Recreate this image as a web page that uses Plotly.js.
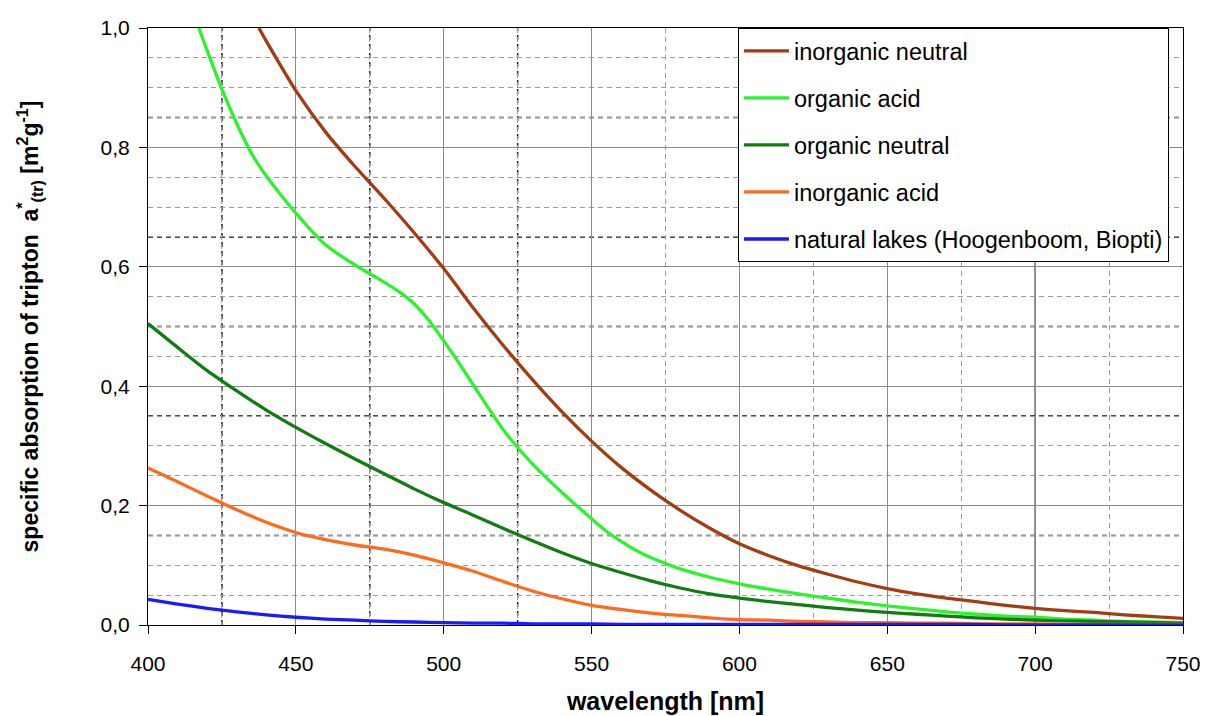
<!DOCTYPE html>
<html>
<head>
<meta charset="utf-8">
<script src="https://cdn.plot.ly/plotly-3.0.1.min.js"></script>
<style>
  html, body { margin: 0; padding: 0; background: #ffffff; }
  #chart { width: 1207px; height: 716px; }
</style>
</head>
<body>
<div id="chart"></div>
<script>
// ---- data ----
const wavelength = [400,410,420,430,440,450,460,470,480,490,500,510,520,530,540,550,560,570,580,590,600,610,620,630,640,650,660,670,680,690,700,710,720,730,740,750];

const inorganicNeutralWl = [437.5,440,450,460,470,480,490,500,510,520,530,540,550,560,570,580,590,600,610,620,630,640,650,660,670,680,690,700,710,720,730,740,750];
const inorganicNeutral = [1.0,0.978,0.895,0.826,0.768,0.714,0.657,0.597,0.531,0.469,0.411,0.357,0.308,0.264,0.226,0.192,0.162,0.136,0.116,0.099,0.085,0.072,0.061,0.052,0.045,0.039,0.033,0.028,0.024,0.021,0.017,0.014,0.011];

const organicAcidWl = [417.2,420,425,430,435,440,445,450,455,460,470,480,485,490,495,500,505,510,520,530,540,550,555,560,565,570,575,580,590,600,610,620,630,640,650,660,670,680,690,700,710,720,730,740,750];
const organicAcid = [1.0,0.962,0.897,0.840,0.790,0.752,0.720,0.690,0.662,0.637,0.603,0.574,0.558,0.538,0.510,0.476,0.440,0.402,0.328,0.27,0.222,0.178,0.157,0.140,0.125,0.113,0.103,0.094,0.080,0.069,0.060,0.052,0.045,0.038,0.032,0.027,0.022,0.018,0.015,0.013,0.010,0.008,0.006,0.005,0.004];

const organicNeutral = [0.505,0.465,0.426,0.392,0.360,0.331,0.304,0.278,0.253,0.228,0.205,0.184,0.162,0.141,0.121,0.103,0.088,0.074,0.062,0.052,0.045,0.039,0.034,0.029,0.025,0.021,0.018,0.015,0.012,0.010,0.008,0.007,0.006,0.005,0.004,0.003];

const inorganicAcid = [0.263,0.240,0.216,0.193,0.172,0.155,0.143,0.134,0.127,0.117,0.104,0.090,0.073,0.057,0.044,0.033,0.026,0.020,0.016,0.012,0.009,0.008,0.006,0.005,0.004,0.004,0.003,0.003,0.002,0.002,0.002,0.001,0.001,0.001,0.001,0.001];

const naturalLakes = [0.043,0.035,0.028,0.022,0.017,0.013,0.010,0.008,0.006,0.005,0.004,0.003,0.003,0.002,0.002,0.002,0.001,0.001,0.001,0.001,0.001,0.001,0.001,0.001,0.001,0.001,0.001,0.001,0.001,0,0,0,0,0,0,0];

const seriesNames = ["inorganic neutral","organic acid","organic neutral","inorganic acid","natural lakes (Hoogenboom, Biopti)"];
const seriesColors = ["#a33c10","#2cf42c","#0f7d0f","#ff6a1c","#1a1aff"];

const xTickVals = [400,450,500,550,600,650,700,750];
const yTickVals = [0,0.2,0.4,0.6,0.8,1.0];
const darkXGrid = [425,475,525];
const darkYGrid = [0.15,0.35,0.5,0.65,0.85];
const solidDarkXGrid = [700];

// ---- traces ----
const xs = [inorganicNeutralWl, organicAcidWl, wavelength, wavelength, wavelength];
const ys = [inorganicNeutral, organicAcid, organicNeutral, inorganicAcid, naturalLakes];
const traces = ys.map((y, i) => ({
  type: "scatter",
  mode: "lines",
  x: xs[i],
  y: y,
  name: seriesNames[i],
  legendgroup: "g" + i,
  line: { color: seriesColors[i], width: 3.3, shape: "spline", smoothing: 0.6 },
  hoverinfo: "skip"
}));

// darker grid lines of the original (drawn between the grid and the curves)
const dashStyle = "5px,4px";
const shapes = [];
darkXGrid.forEach(v => shapes.push({ type: "line", xref: "x", yref: "paper", x0: v, x1: v, y0: 0, y1: 1, layer: "between", line: { color: "#111111", width: 1.4, dash: dashStyle } }));
darkYGrid.forEach(v => shapes.push({ type: "line", xref: "paper", yref: "y", x0: 0, x1: 1, y0: v, y1: v, layer: "between", line: { color: "#111111", width: 1.4, dash: dashStyle } }));
solidDarkXGrid.forEach(v => shapes.push({ type: "line", xref: "x", yref: "paper", x0: v, x1: v, y0: 0, y1: 1, layer: "between", line: { color: "#222222", width: 1.2 } }));

const FONT = "Liberation Sans, Arial, Helvetica, sans-serif";

const layout = {
  width: 1207,
  height: 716,
  margin: { l: 148, r: 24, t: 28, b: 91, pad: 0 },
  paper_bgcolor: "#ffffff",
  plot_bgcolor: "#ffffff",
  separators: ",.",
  font: { family: FONT, size: 21, color: "#000000" },
  showlegend: true,
  legend: {
    x: 0.57, y: 1, xanchor: "left", yanchor: "top",
    bgcolor: "#ffffff",
    bordercolor: "#000000",
    borderwidth: 1,
    font: { family: FONT, size: 23.5, color: "#000000" },
    traceorder: "grouped",
    tracegroupgap: 13.5,
    itemwidth: 45
  },
  shapes: shapes,
  xaxis: {
    range: [400, 750],
    tickvals: xTickVals,
    ticks: "outside",
    ticklen: 8,
    tickcolor: "#000000",
    ticklabelstandoff: 12,
    showline: true,
    linecolor: "#000000",
    linewidth: 1,
    mirror: true,
    showgrid: true,
    gridcolor: "#8a8a8a",
    gridwidth: 1,
    zeroline: false,
    minor: { dtick: 25, tick0: 400, showgrid: true, gridcolor: "#9a9a9a", griddash: dashStyle, gridwidth: 1, ticks: "" },
    tickfont: { family: FONT, size: 21 },
    title: { text: "<b>wavelength [nm]</b>", font: { family: FONT, size: 25 }, standoff: 18 }
  },
  yaxis: {
    range: [0, 1.0],
    tickvals: yTickVals,
    tickformat: ".1f",
    ticks: "outside",
    ticklen: 8,
    tickcolor: "#000000",
    ticklabelstandoff: 5,
    showline: true,
    linecolor: "#000000",
    linewidth: 1,
    mirror: true,
    showgrid: true,
    gridcolor: "#8a8a8a",
    gridwidth: 1,
    zeroline: false,
    minor: { dtick: 0.05, tick0: 0, showgrid: true, gridcolor: "#9a9a9a", griddash: dashStyle, gridwidth: 1, ticks: "" },
    tickfont: { family: FONT, size: 21 },
    title: { text: "<b>specific absorption of tripton  a<sup>*</sup><sub>(tr)</sub> [m<sup>2</sup>g<sup>-1</sup>]</b>", font: { family: FONT, size: 23 }, standoff: 55 }
  }
};

Plotly.newPlot("chart", traces, layout, { staticPlot: true, displayModeBar: false });
</script>
</body>
</html>
